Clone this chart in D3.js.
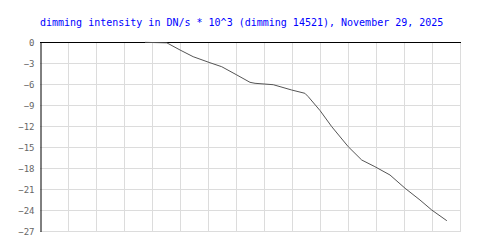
<!DOCTYPE html>
<html>
<head>
<meta charset="utf-8">
<script src="https://cdn.jsdelivr.net/npm/d3@7"></script>
<style>
  body { margin: 0; background: #fff; }
</style>
</head>
<body>
<div class="chart"></div>
<script>
const dims = { width: 500, height: 250 };
const margin = { top: 42, right: 40, bottom: 19, left: 40 };

// data (x in grid steps, y in DN/s * 10^3)
var hours = [3.75, 4.53, 5.0, 5.47, 6.07, 6.49, 7.03, 7.5, 7.68, 8.33, 8.99, 9.46, 9.58,
             10.0, 10.42, 11.01, 11.49, 11.96, 12.5, 13.04, 13.57, 13.99, 14.53];
var dimming = [-0.05, -0.12, -1.14, -2.1, -2.96, -3.53, -4.71, -5.76, -5.9, -6.1, -6.86, -7.33, -7.81,
               -9.79, -12.1, -14.96, -16.86, -17.81, -19.0, -20.9, -22.57, -24.0, -25.53];
var y_ticks = [0, -3, -6, -9, -12, -15, -18, -21, -24, -27];
var x_grid = d3.range(0, 16);
var title = "dimming intensity in DN/s * 10^3 (dimming 14521), November 29, 2025";

var svg = d3.select(".chart")
            .append("svg")
            .attr("width", dims.width)
            .attr("height", dims.height);

var x = d3.scaleLinear().domain([0, 15]).range([margin.left, dims.width - margin.right]);
var y = d3.scaleLinear().domain([-27, 0]).range([dims.height - margin.bottom, margin.top]);

// grid
svg.append("g").selectAll("line").data(x_grid.slice(1)).enter().append("line")
   .attr("x1", d => x(d) + 0.5).attr("x2", d => x(d) + 0.5)
   .attr("y1", y(0)).attr("y2", y(-27))
   .attr("stroke", "#dcdcdc").attr("stroke-width", 1);

svg.append("g").selectAll("line").data(y_ticks.slice(1)).enter().append("line")
   .attr("x1", x(0)).attr("x2", x(15) + 1)
   .attr("y1", d => y(d) + 0.5).attr("y2", d => y(d) + 0.5)
   .attr("stroke", "#dcdcdc").attr("stroke-width", 1);

// y axis, no tick marks
const y_axis = svg.append("g")
   .attr("transform", `translate(${x(0) + 0.5},0.5)`)
   .call(d3.axisLeft(y).tickValues(y_ticks).tickSize(0).tickPadding(6).tickFormat(d3.format("d")));
y_axis.select(".domain").attr("stroke", "#000");
y_axis.selectAll(".tick text")
      .attr("font-family", "DejaVu Sans Mono")
      .attr("font-size", 9)
      .style("fill", "#666");

// zero line
svg.append("line")
   .attr("x1", x(0)).attr("x2", x(15) + 1)
   .attr("y1", y(0) + 0.5).attr("y2", y(0) + 0.5)
   .attr("stroke", "#000");

// dimming curve
var line = d3.line().x((d, i) => x(hours[i])).y(d => y(d));
svg.append("path")
   .datum(dimming)
   .attr("d", line)
   .attr("fill", "none")
   .attr("stroke", "#555")
   .attr("stroke-width", 1);

svg.append("text")
   .attr("x", 40)
   .attr("y", 26)
   .attr("font-family", "DejaVu Sans Mono")
   .attr("font-size", 10)
   .style("fill", "#0000ff")
   .text(title);
</script>
</body>
</html>
